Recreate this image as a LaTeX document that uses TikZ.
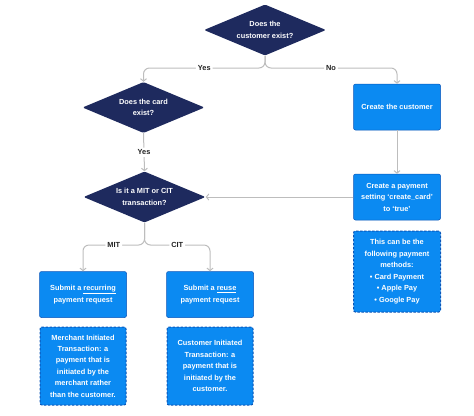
\documentclass[tikz,border=0pt]{standalone}
\usepackage{fontspec}
\setmainfont{Liberation Sans}
\usetikzlibrary{shapes.geometric,arrows.meta}
\definecolor{navy}{HTML}{1E2A5E}
\definecolor{boxblue}{HTML}{0B8AF2}
\definecolor{edgeblue}{HTML}{0A55B8}
\definecolor{linegrey}{HTML}{BDBDBD}
\definecolor{labeltext}{HTML}{222222}
\tikzset{
  decision/.style={diamond, fill=navy, text=white, align=center,
    font=\fontsize{7.4}{11.5}\selectfont\bfseries, aspect=2.4,
    minimum width=122bp, minimum height=51bp, inner sep=0pt, rounded corners=1.5bp},
  process/.style={rectangle, fill=boxblue, draw=edgeblue, line width=0.5bp,
    rounded corners=2bp, text=white, align=center,
    font=\fontsize{7.4}{11.5}\selectfont\bfseries,
    minimum width=87bp, minimum height=46bp, inner sep=1bp},
  notebox/.style={process, draw=edgeblue, line width=1bp, dash pattern=on 2.5bp off 1.5bp},
  flowline/.style={draw=linegrey, line width=1bp, rounded corners=6bp,
    -{Straight Barb[length=2.5bp,width=6bp]}},
  answer/.style={fill=white, text=labeltext, inner sep=2bp,
    font=\fontsize{7.4}{8}\selectfont\bfseries},
}
\begin{document}
\begin{tikzpicture}[x=1bp,y=-1bp]
  \useasboundingbox (0,0) rectangle (474,415);
  \node[decision] (customer) at (265,30) {Does the\\customer exist?};
  \node[decision] (card) at (143.5,107.5) {Does the card\\exist?};
  \node[decision] (type) at (144.5,197) {Is it a MIT or CIT\\transaction?};
  \node[process] (create) at (397,107) {Create the customer};
  \node[process] (payment) at (397,197) {Create a payment\\setting `create\_card'\\to `true'};
  \node[notebox, minimum height=81bp] (methods) at (397,271.5)
    {This can be the\\following payment\\methods:\\• Card Payment\\• Apple Pay\\• Google Pay};
  \node[process] (recurring) at (83,294.5) {Submit a \underline{recurring}\\payment request};
  \node[process] (reuse) at (210,294.5) {Submit a \underline{reuse}\\payment request};
  \node[notebox, minimum width=86bp, minimum height=78bp] (mitnote) at (83,366)
    {Merchant Initiated\\Transaction: a\\payment that is\\initiated by the\\merchant rather\\than the customer.};
  \node[notebox, minimum width=86bp, minimum height=78bp] (citnote) at (210,366)
    {Customer Initiated\\Transaction: a\\payment that is\\initiated by the\\customer.};
  \coordinate (split1) at (265,68);
  \coordinate (split2) at (144.5,245);
  \begin{scope}[flowline]
    \draw (customer.south) -- (split1) -| node[answer, pos=0.25]{Yes} (card.north);
    \draw (customer.south) -- (split1) -| node[answer, pos=0.25]{No} (create.north);
    \draw (card.south) -- node[answer]{Yes} (type.north);
    \draw (create) -- (payment);
    \draw (payment) -- (type);
    \draw (type.south) -- (split2) -| node[answer, pos=0.25]{MIT} (recurring.north);
    \draw (type.south) -- (split2) -| node[answer, pos=0.25]{CIT} (reuse.north);
  \end{scope}
\end{tikzpicture}
\end{document}
